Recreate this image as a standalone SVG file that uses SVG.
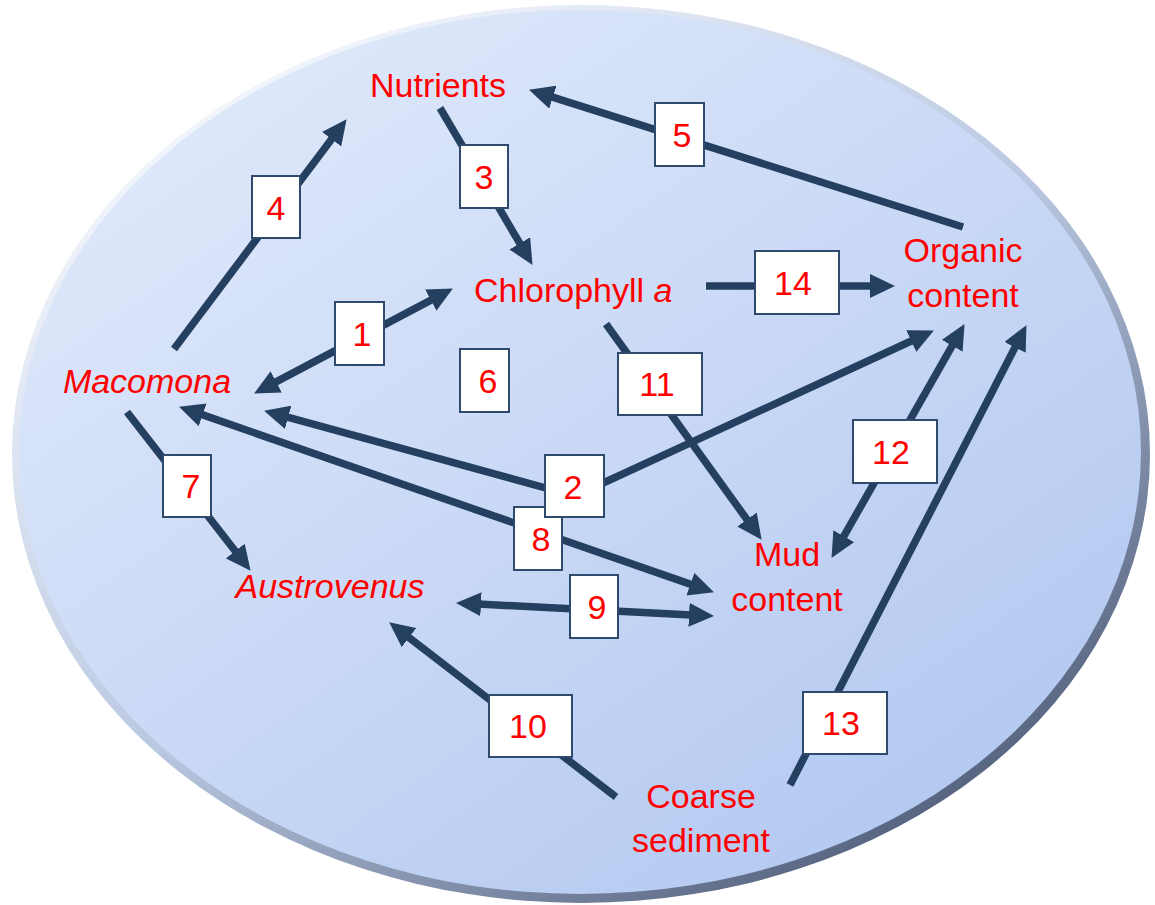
<svg xmlns="http://www.w3.org/2000/svg" width="1155" height="905" viewBox="0 0 1155 905">
<defs>
<linearGradient id="rim" x1="0.15" y1="0.1" x2="0.85" y2="0.95">
<stop offset="0" stop-color="#f4f7fd"/>
<stop offset="0.5" stop-color="#b9c7e0"/>
<stop offset="1" stop-color="#4a5875"/>
</linearGradient>
<linearGradient id="fill" x1="0.1" y1="0.05" x2="0.9" y2="0.95">
<stop offset="0" stop-color="#e1eafb"/>
<stop offset="1" stop-color="#b1c7f0"/>
</linearGradient>
<marker id="ah" viewBox="0 0 25 24" refX="12" refY="12" markerWidth="25" markerHeight="24" markerUnits="userSpaceOnUse" orient="auto-start-reverse">
<path d="M0,0 L25,12 L0,24 z" fill="#243f60"/>
</marker>
<style>
.c{fill:none;stroke:#243f60;stroke-width:7.5;stroke-linejoin:miter}
.b{fill:#ffffff;stroke:#2e4a6d;stroke-width:2}
.t{font-family:"Liberation Sans",Arial,sans-serif;font-size:34px;fill:#ff0000}
.n{font-family:"Liberation Sans",Arial,sans-serif;font-size:34px;fill:#ff0000;text-anchor:middle}
.i{font-style:italic}
</style>
</defs>
<g id="background">
<ellipse cx="581" cy="454" rx="569" ry="449" fill="url(#rim)"/>
<ellipse cx="580" cy="452" rx="561" ry="442" fill="url(#fill)"/>
</g>
<g id="connectors">
<line class="c" x1="174" y1="349" x2="338.8" y2="129.6" marker-end="url(#ah)"/>
<line class="c" x1="440" y1="108" x2="525.9" y2="253.7" marker-end="url(#ah)"/>
<line class="c" x1="963" y1="227" x2="541.4" y2="93.6" marker-end="url(#ah)"/>
<line class="c" x1="265.6" y1="387.4" x2="441.4" y2="294.6" marker-start="url(#ah)" marker-end="url(#ah)"/>
<line class="c" x1="706" y1="286" x2="882" y2="286" marker-end="url(#ah)"/>
<line class="c" x1="606" y1="324" x2="754" y2="529.3" marker-end="url(#ah)"/>
<polyline class="c" points="276.6,414.2 575,496 922.1,336" marker-start="url(#ah)" marker-end="url(#ah)"/>
<line class="c" x1="191.3" y1="410.9" x2="701.7" y2="588.1" marker-start="url(#ah)" marker-end="url(#ah)"/>
<line class="c" x1="469" y1="603.6" x2="701" y2="615.4" marker-start="url(#ah)" marker-end="url(#ah)"/>
<line class="c" x1="127" y1="412" x2="242.6" y2="560.5" marker-end="url(#ah)"/>
<line class="c" x1="616" y1="797" x2="399.5" y2="630.3" marker-end="url(#ah)"/>
<line class="c" x1="958.1" y1="335.4" x2="837.9" y2="546.6" marker-start="url(#ah)" marker-end="url(#ah)"/>
<line class="c" x1="790" y1="785" x2="1020.5" y2="336.7" marker-end="url(#ah)"/>
</g>
<g id="labels">
<g id="box4"><rect class="b" x="252" y="176" width="48" height="62"/><text class="n" x="276" y="220">4</text></g>
<g id="box3"><rect class="b" x="460" y="145" width="48" height="63"/><text class="n" x="484" y="189">3</text></g>
<g id="box1"><rect class="b" x="335" y="302" width="49" height="63"/><text class="n" x="362" y="346">1</text></g>
<g id="box6"><rect class="b" x="460" y="349" width="49" height="63"/><text class="n" x="488" y="393">6</text></g>
<g id="box5"><rect class="b" x="655" y="103" width="49" height="63"/><text class="n" x="682" y="147">5</text></g>
<g id="box14"><rect class="b" x="755" y="251" width="84" height="63"/><text class="n" x="793" y="295">14</text></g>
<g id="box11"><rect class="b" x="618" y="353" width="84" height="62"/><text class="n" x="657" y="396">11</text></g>
<g id="box12"><rect class="b" x="853" y="420" width="84" height="63"/><text class="n" x="891" y="464">12</text></g>
<g id="box8"><rect class="b" x="514" y="507" width="48" height="63"/><text class="n" x="541" y="551">8</text></g>
<g id="box2"><rect class="b" x="545" y="455" width="59" height="62"/><text class="n" x="573" y="499">2</text></g>
<g id="box9"><rect class="b" x="570" y="575" width="48" height="63"/><text class="n" x="597" y="619">9</text></g>
<g id="box7"><rect class="b" x="163" y="455" width="48" height="62"/><text class="n" x="191" y="498">7</text></g>
<g id="box10"><rect class="b" x="489" y="695" width="83" height="62"/><text class="n" x="528" y="738">10</text></g>
<g id="box13"><rect class="b" x="803" y="692" width="84" height="62"/><text class="n" x="841" y="735">13</text></g>
</g>
<g id="node-nutrients"><text class="n" x="438" y="97">Nutrients</text></g>
<g id="node-chlorophyll"><text class="t" x="474" y="302">Chlorophyll <tspan class="i">a</tspan></text></g>
<g id="node-organic"><text class="n" x="963" y="262">Organic</text><text class="n" x="963" y="307">content</text></g>
<g id="node-macomona"><text class="n i" x="147" y="393">Macomona</text></g>
<g id="node-austrovenus"><text class="n i" x="330" y="598">Austrovenus</text></g>
<g id="node-mud"><text class="n" x="787" y="566">Mud</text><text class="n" x="787" y="611">content</text></g>
<g id="node-coarse"><text class="n" x="701" y="808">Coarse</text><text class="n" x="701" y="852">sediment</text></g>
</svg>
